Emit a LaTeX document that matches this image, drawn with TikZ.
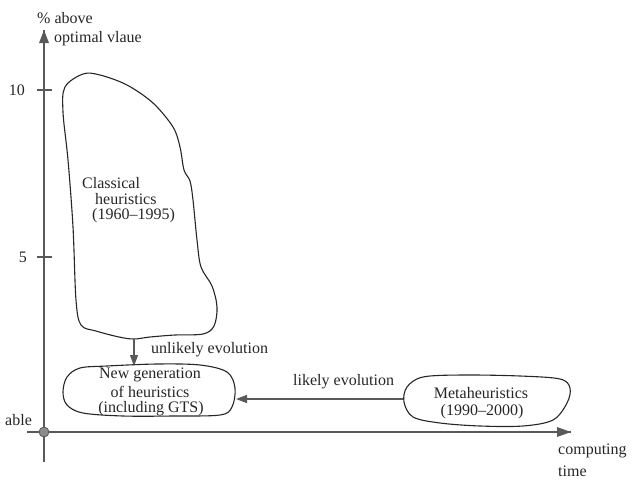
\documentclass[tikz,border=0pt]{standalone}
\usepackage{fontspec}
\setmainfont{Liberation Serif}
\usetikzlibrary{arrows.meta}
\begin{document}
\begin{tikzpicture}[x=1pt,y=-1pt,
  every node/.style={font=\fontsize{16}{16}\selectfont, inner sep=0pt, text=black!85},
  axisline/.style={draw=black!65, line width=1.4pt},
  blob/.style={draw=black!85, line width=1.1pt, smooth cycle, tension=0.55},
  evo/.style={draw=black!65, line width=1.3pt, -{Triangle[length=11pt,width=8pt]}},
  tickmark/.style={draw=black!65, line width=1.2pt}]
\useasboundingbox (0,0) rectangle (632,480);

% axes
\coordinate (ybot) at (44,462);
\coordinate (ytop) at (44,30);
\coordinate (xleft) at (27,432);
\coordinate (xright) at (571,432);
\draw[axisline] (ybot) -- (ytop);
\draw[axisline] (xleft) -- (xright);
\fill[black!65] (ytop) -- ++(-5,13) -- ++(10,0) -- cycle;
\fill[black!65] (xright) -- ++(-14,-5) -- ++(0,10) -- cycle;
\node[circle, fill=black!45, draw=black!65, line width=0.8pt, minimum size=10pt] (origin) at (44,432) {};

% ticks
\draw[tickmark] (37,90) -- (52,90);
\draw[tickmark] (37,257) -- (52,257);
\node (t10) at (17,90) {10};
\node (t5) at (23,257) {5};
\node[anchor=west] (able) at (5,420) {able};

% axis titles
\node[anchor=west] (ytitle1) at (37,18) {\% above};
\node[anchor=west] (ytitle2) at (54,39) {optimal vlaue};
\node[anchor=west] (xtitle1) at (558,451) {computing};
\node[anchor=west] (xtitle2) at (558,471) {time};

% classical heuristics region
\draw[blob] plot coordinates {
  (65,87) (83,74) (100,75) (127,85) (153,103) (173,127) (180,147)
  (184,170) (190,181) (193,200) (197,240) (201,267) (212,286) (217,307)
  (214,326) (203,334) (175,335) (150,337) (134,339) (119,337) (96,331)
  (81,325) (76,300) (73,227) (68,160) (63,112)};
\coordinate (clbottom) at (134,339);
\node[anchor=west] (cl1) at (82,183) {Classical};
\node[anchor=west] (cl2) at (95,199) {heuristics};
\node[anchor=west] (cl3) at (92,215.5) {(1960--1995)};

% new generation region
\draw[blob] plot coordinates {
  (67,377) (80,368) (107,366) (157,364) (200,365) (227,372) (235,388)
  (232,407) (220,415) (173,416) (123,416) (83,413) (67,405) (63,392)};
\coordinate (ngtop) at (134,366);
\coordinate (ngright) at (236,399);
\node (ng1) at (150,375) {New generation};
\node (ng2) at (150,391.5) {of heuristics};
\node (ng3) at (151,408.5) {(including GTS)};

% metaheuristics region
\draw[blob] plot coordinates {
  (407,387) (423,377) (463,375) (520,376) (560,379) (570,388)
  (567,403) (553,420) (523,426) (480,426) (440,423) (413,417) (404,402)};
\coordinate (mhleft) at (403,399);
\node (mh1) at (481,393) {Metaheuristics};
\node (mh2) at (482,412) {(1990--2000)};

% evolutions
\draw[evo] (clbottom) -- (ngtop);
\node[anchor=west] (unlikely) at (151,350) {unlikely evolution};
\draw[evo] (mhleft) -- (ngright);
\node[anchor=west] (likely) at (293,382) {likely evolution};
\end{tikzpicture}
\end{document}
